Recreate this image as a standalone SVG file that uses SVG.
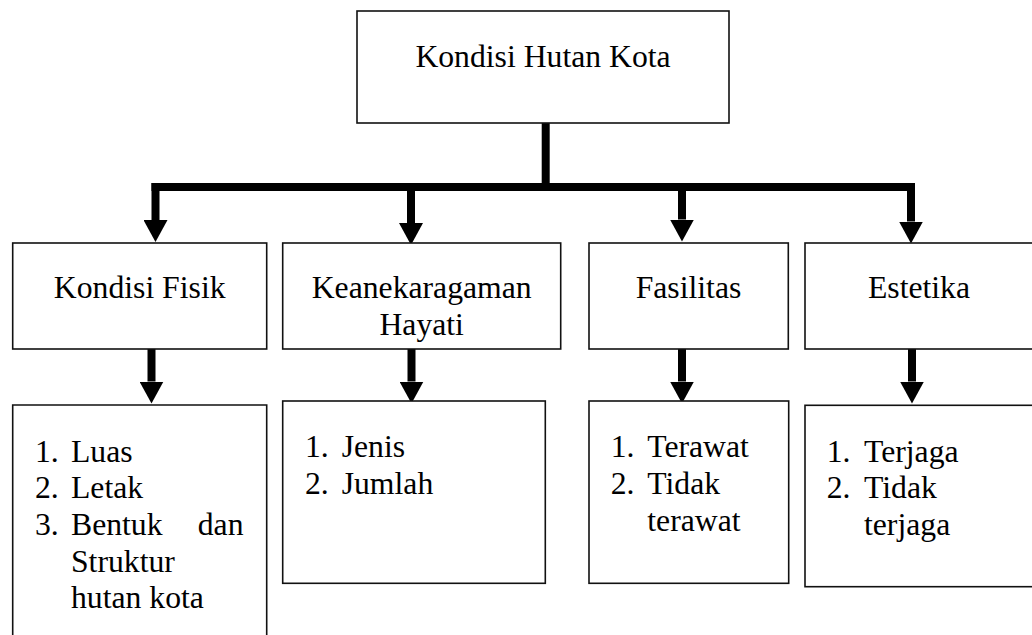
<svg xmlns="http://www.w3.org/2000/svg" width="1032" height="635" viewBox="0 0 1032 635">
<defs>
<marker id="ah" markerUnits="userSpaceOnUse" viewBox="0 -12 22 24" markerWidth="22" markerHeight="24" refX="0" refY="0" orient="auto">
<path d="M0,-12 L22,0 L0,12 Z" fill="#000"/>
</marker>
<style>
.box{fill:#fff;stroke:#111;stroke-width:1.6}
.t{font-family:"Liberation Serif","Times New Roman",serif;font-size:31.7px;fill:#000}
.c{text-anchor:middle}
.con{stroke:#000;stroke-width:8;fill:none}
.arr{stroke:#000;stroke-width:8;fill:none;marker-end:url(#ah)}
</style>
</defs>
<rect width="1032" height="635" fill="#fff"/>
<g id="connectors">
<line class="con" x1="545.7" y1="123" x2="545.7" y2="191"/>
<line class="con" x1="151.5" y1="187" x2="912" y2="187"/>
<line class="arr" x1="155.5" y1="183" x2="155.5" y2="220"/>
<line class="arr" x1="411" y1="191" x2="411" y2="223"/>
<line class="arr" x1="682" y1="191" x2="682" y2="219.5"/>
<line class="arr" x1="911" y1="183" x2="911" y2="221.5"/>
<line class="arr" x1="151.5" y1="349" x2="151.5" y2="381.5"/>
<line class="arr" x1="411.5" y1="349" x2="411.5" y2="381.5"/>
<line class="arr" x1="682" y1="349" x2="682" y2="381.5"/>
<line class="arr" x1="912" y1="349" x2="912" y2="381.5"/>
</g>
<g id="root">
<rect class="box" x="357" y="11" width="372" height="112"/>
<text class="t c" x="543" y="67">Kondisi Hutan Kota</text>
</g>
<g id="kondisi-fisik">
<rect class="box" x="12.7" y="243" width="254" height="106"/>
<text class="t c" x="139.7" y="298">Kondisi Fisik</text>
</g>
<g id="keanekaragaman">
<rect class="box" x="282.7" y="243" width="278" height="106"/>
<text class="t c" x="421.7" y="298">Keanekaragaman</text>
<text class="t c" x="421.7" y="335">Hayati</text>
</g>
<g id="fasilitas">
<rect class="box" x="589" y="243" width="199.3" height="106"/>
<text class="t c" x="688.5" y="298">Fasilitas</text>
</g>
<g id="estetika">
<rect class="box" x="805" y="243" width="240" height="106"/>
<text class="t c" x="919" y="298">Estetika</text>
</g>
<g id="list-fisik">
<path class="box" d="M12.7,640 V405 H266.7 V640"/>
<text class="t" x="35" y="461.7">1.</text>
<text class="t" x="71" y="461.7">Luas</text>
<text class="t" x="35" y="498.3">2.</text>
<text class="t" x="71" y="498.3">Letak</text>
<text class="t" x="35" y="535">3.</text>
<text class="t" x="71" y="535">Bentuk</text>
<text class="t" x="243.5" y="535" text-anchor="end">dan</text>
<text class="t" x="71" y="571.7">Struktur</text>
<text class="t" x="71" y="608.3">hutan kota</text>
</g>
<g id="list-hayati">
<rect class="box" x="282.7" y="401" width="262.6" height="182.3"/>
<text class="t" x="305" y="457.3">1.</text>
<text class="t" x="341.7" y="457.3">Jenis</text>
<text class="t" x="305" y="494">2.</text>
<text class="t" x="341.7" y="494">Jumlah</text>
</g>
<g id="list-fasilitas">
<rect class="box" x="589" y="401" width="199.7" height="182.3"/>
<text class="t" x="610.7" y="457.3">1.</text>
<text class="t" x="647.3" y="457.3">Terawat</text>
<text class="t" x="610.7" y="494">2.</text>
<text class="t" x="647.3" y="494">Tidak</text>
<text class="t" x="647.3" y="530.7">terawat</text>
</g>
<g id="list-estetika">
<rect class="box" x="805" y="405.3" width="240" height="181.4"/>
<text class="t" x="826.7" y="461.7">1.</text>
<text class="t" x="864" y="461.7">Terjaga</text>
<text class="t" x="826.7" y="498.3">2.</text>
<text class="t" x="864" y="498.3">Tidak</text>
<text class="t" x="864" y="535">terjaga</text>
</g>
</svg>
